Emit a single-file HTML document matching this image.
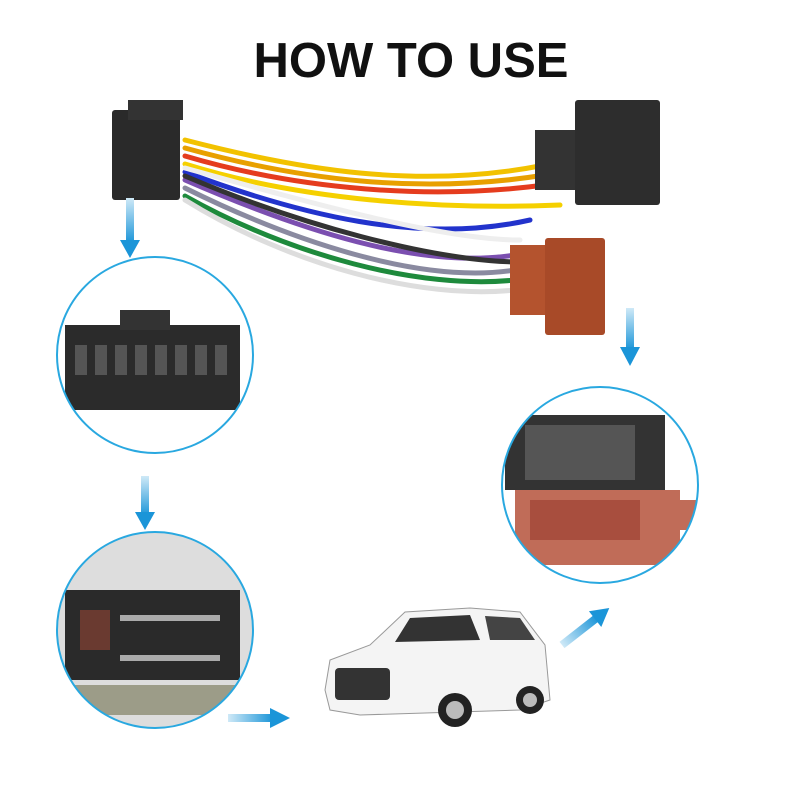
<!DOCTYPE html>
<html><head><meta charset="utf-8"><style>
html,body{margin:0;padding:0;background:#fff;}
svg{display:block}
</style></head><body>
<svg width="800" height="800" viewBox="0 0 800 800" xmlns="http://www.w3.org/2000/svg">
<defs>
<linearGradient id="ag" x1="0" y1="0" x2="0" y2="1"><stop offset="0" stop-color="#cfe9f7"/><stop offset="1" stop-color="#1b95d8"/></linearGradient>
<linearGradient id="agh" x1="0" y1="0" x2="1" y2="0"><stop offset="0" stop-color="#cfe9f7"/><stop offset="1" stop-color="#1b95d8"/></linearGradient>
<clipPath id="c1"><circle cx="155" cy="355" r="98"/></clipPath>
<clipPath id="c2"><circle cx="155" cy="630" r="98"/></clipPath>
<clipPath id="c3"><circle cx="600" cy="485" r="98"/></clipPath>
</defs>
<text x="411" y="77" text-anchor="middle" font-family="Liberation Sans, sans-serif" font-weight="bold" font-size="49" fill="#111">HOW TO USE</text>

<!-- wires -->
<g fill="none" stroke-width="5" stroke-linecap="round">
<path d="M185,140 C300,170 420,190 545,165" stroke="#f2c200"/>
<path d="M185,148 C300,180 420,195 545,175" stroke="#e8a000"/>
<path d="M185,156 C300,190 430,200 545,185" stroke="#e53c1e"/>
<path d="M185,164 C300,200 440,210 560,205" stroke="#f5d000"/>
<path d="M185,172 C300,215 420,245 530,220" stroke="#2233cc"/>
<path d="M185,180 C300,230 420,270 515,255" stroke="#7b4fb0"/>
<path d="M185,188 C290,240 420,285 515,270" stroke="#8a8aa0"/>
<path d="M185,196 C290,255 420,290 515,280" stroke="#1e8a3c"/>
<path d="M185,200 C290,265 420,300 515,290" stroke="#ddd"/>
<path d="M185,176 C300,225 430,260 515,262" stroke="#333"/>
<path d="M185,168 C300,200 440,240 520,240" stroke="#eee"/>
</g>
<!-- connectors -->
<rect x="112" y="110" width="68" height="90" fill="#2a2a2a" rx="3"/>
<rect x="128" y="100" width="55" height="20" fill="#333"/>
<rect x="535" y="130" width="50" height="60" fill="#333"/>
<rect x="575" y="100" width="85" height="105" fill="#2d2d2d" rx="3"/>
<rect x="510" y="245" width="40" height="70" fill="#b4532e"/>
<rect x="545" y="238" width="60" height="97" fill="#a84a28" rx="3"/>

<!-- circles -->
<g clip-path="url(#c1)">
<rect x="50" y="250" width="210" height="210" fill="#fff"/>
<rect x="65" y="325" width="175" height="85" fill="#2b2b2b"/>
<rect x="120" y="310" width="50" height="20" fill="#333"/>
<g fill="#555"><rect x="75" y="345" width="12" height="30"/><rect x="95" y="345" width="12" height="30"/><rect x="115" y="345" width="12" height="30"/><rect x="135" y="345" width="12" height="30"/><rect x="155" y="345" width="12" height="30"/><rect x="175" y="345" width="12" height="30"/><rect x="195" y="345" width="12" height="30"/><rect x="215" y="345" width="12" height="30"/></g>
</g>
<circle cx="155" cy="355" r="98" fill="none" stroke="#29a8e0" stroke-width="2"/>

<g clip-path="url(#c2)">
<rect x="50" y="525" width="210" height="210" fill="#ddd"/>
<rect x="65" y="590" width="175" height="90" fill="#2a2a2a"/>
<rect x="80" y="610" width="30" height="40" fill="#6a3a30"/>
<g fill="#aaa"><rect x="120" y="615" width="100" height="6"/><rect x="120" y="655" width="100" height="6"/></g>
<rect x="50" y="685" width="210" height="30" fill="#9c9c88"/>
</g>
<circle cx="155" cy="630" r="98" fill="none" stroke="#29a8e0" stroke-width="2"/>

<g clip-path="url(#c3)">
<rect x="500" y="385" width="200" height="200" fill="#fff"/>
<rect x="505" y="415" width="160" height="75" fill="#333"/>
<rect x="525" y="425" width="110" height="55" fill="#555"/>
<rect x="515" y="490" width="165" height="75" fill="#c06c58"/>
<rect x="530" y="500" width="110" height="40" fill="#a84e3e"/>
<rect x="670" y="500" width="30" height="30" fill="#c06c58"/>
</g>
<circle cx="600" cy="485" r="98" fill="none" stroke="#29a8e0" stroke-width="2"/>

<!-- arrows -->
<g>
<rect x="126" y="198" width="8" height="45" fill="url(#ag)"/><polygon points="120,240 140,240 130,258" fill="#1b95d8"/>
<rect x="141" y="476" width="8" height="40" fill="url(#ag)"/><polygon points="135,512 155,512 145,530" fill="#1b95d8"/>
<rect x="626" y="308" width="8" height="42" fill="url(#ag)"/><polygon points="620,347 640,347 630,366" fill="#1b95d8"/>
<rect x="228" y="714" width="45" height="8" fill="url(#agh)"/><polygon points="270,708 270,728 290,718" fill="#1b95d8"/>
<g transform="translate(562,645) rotate(-38)"><rect x="0" y="-4" width="45" height="8" fill="url(#agh)"/><polygon points="42,-10 42,10 60,0" fill="#1b95d8"/></g>
</g>

<!-- car -->
<g>
<path d="M325,690 L330,660 L370,645 L405,612 L470,608 L520,612 L545,645 L550,700 L520,710 L360,715 L330,710 Z" fill="#f4f4f4" stroke="#999"/>
<path d="M410,618 L470,615 L480,640 L395,642 Z" fill="#333"/>
<path d="M485,616 L520,618 L535,640 L490,640 Z" fill="#444"/>
<rect x="335" y="668" width="55" height="32" fill="#333" rx="4"/>
<circle cx="455" cy="710" r="17" fill="#222"/><circle cx="455" cy="710" r="9" fill="#bbb"/>
<circle cx="530" cy="700" r="14" fill="#222"/><circle cx="530" cy="700" r="7" fill="#bbb"/>
</g>
</svg>
</body></html>
